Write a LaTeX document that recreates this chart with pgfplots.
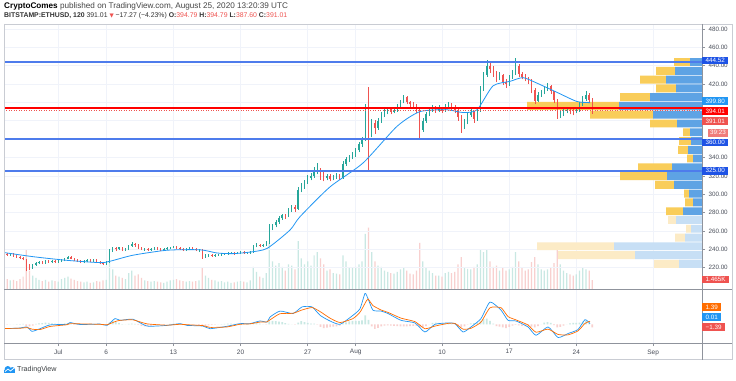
\documentclass[border=0pt]{standalone}
\usepackage{fontspec}
\setmainfont{Liberation Sans}
\newfontfamily\dejavu{DejaVu Sans}
\usepackage{pgfplots}
\pgfplotsset{compat=1.18}
\usepackage{pgfplotstable}

\definecolor{upc}{HTML}{26A69A}
\definecolor{dnc}{HTML}{EF5350}
\definecolor{volup}{HTML}{C9E8E3}
\definecolor{voldn}{HTML}{F8D0CF}
\definecolor{mablue}{HTML}{2196F3}
\definecolor{linb}{RGB}{78,124,236}
\definecolor{sigor}{HTML}{FF6D00}
\definecolor{vpb}{HTML}{5EA3E4}
\definecolor{vpy}{HTML}{F9CD5A}
\definecolor{vpbl}{HTML}{C7DFF5}
\definecolor{vpyl}{HTML}{FCEBC6}
\definecolor{gridc}{HTML}{F0F3FA}
\definecolor{framec}{HTML}{C9CCD3}
\definecolor{axc}{HTML}{8F939C}
\definecolor{txtc}{HTML}{4A4F5A}
\definecolor{lblblue}{HTML}{1E53E5}
\definecolor{cntred}{HTML}{F07C7A}

\pgfplotstableread{
k o hi lo c v hg
-18 236 237 234.5 235 1.5 -0.1
-17 235 236.5 233 234 1.6 -0.1
-16 234 236 233 235 1.4 0
-15 235 235.5 232 233 1.5 0
-14 233 234 231 232 1.3 0.1
-13 232 233 230 231 1.6 0.1
-12 231 232 228 229 2.0 0.2
-11 229 230 216 222 6.5 -0.8
-10 222 224 218 220 3.0 -1.0
-9 220 224 219 223 2.2 -0.6
-8 223 226 222 225 1.8 0.2
-7 225 227 224 226 1.5 0.4
-6 226 227 224 225 1.3 0.5
-5 225 228 224.5 227 1.5 0.7
-4 227 228 225 226 1.2 0.6
-3 226 228 225 227 1.4 0.4
-2 227 228 225 226 1.3 0.3
-1 226 228 225.5 227 1.2 0.2
0 227 229 226 228 1.6 0.2
1 228 231 227 230 1.8 0.4
2 230 233 229 232 2.0 0.5
3 232 233 229 230 1.7 0.2
4 230 231 227 228 1.5 -0.1
5 228 229 226 227 1.3 -0.3
6 227 228 225 226 1.2 -0.3
7 226 228 225 227 1.1 -0.2
8 227 229 226 228 1.2 0
9 228 229 226 227 1.0 0
10 227 229 226 228 1.1 0.1
11 228 229 225 226 1.3 0.1
12 226 227 224 225 1.2 -0.1
13 225 226 223 224 1.4 -0.3
14 224 227 223 226 1.5 -0.3
15 226 240 225 238 4.5 0.8
16 238 243 237 241 3.2 1.4
17 241 242 238 240 2.2 1.0
18 240 243 239 242 2.0 0.6
19 242 243 238 239 1.8 0.1
20 239 241 238 240 1.6 0
21 240 245 239 244 2.6 0.2
22 244 248 243 246 3.0 0.3
23 246 247 243 245 2.2 0.2
24 245 246 240 241 2.4 -0.3
25 241 242 239 240 1.8 -0.7
26 240 241.5 238.5 240 1.4 -1.0
27 240 241 238 239 1.3 -0.9
28 239 241 238 240 1.2 -0.6
29 240 242 239 241 1.3 -0.4
30 241 242 239 240 1.2 -0.3
31 240 241 238 239 1.1 -0.2
32 239 241 238.5 240 1.0 -0.1
33 240 242 239 241 1.2 0
34 241 243 240 242 1.4 0.2
35 242 244 241 243 1.5 0.3
36 243 244 240 241 1.6 0.2
37 241 242 239 240 1.4 0
38 240 241 238 239 1.3 -0.2
39 239 241 238.5 240 1.2 -0.3
40 240 242 239 241 1.3 -0.2
41 241 242 239 240 1.2 -0.2
42 240 241 238 239 1.3 -0.2
43 239 240 237 239 1.4 -0.3
44 239 240 230 232 3.5 -0.6
45 232 234.5 231 233 2.2 -0.7
46 233 235 232 234 1.8 -0.5
47 234 235 232 233 1.5 -0.3
48 233 235 232 234 1.4 -0.1
49 234 235 233 234 1.2 0
50 234 236 233 235 1.3 0.1
51 235 236 234 235 1.1 0.2
52 235 237 234 236 1.2 0.3
53 236 237 235 236 1.0 0.3
54 236 237 234 235 1.1 0.2
55 235 237 234.5 236 1.2 0.2
56 236 238 235 237 1.3 0.2
57 237 238 235 236 1.2 0.2
58 236 237.5 235 236 1.1 0.1
59 236 238 235 237 1.4 0.1
60 237 245 236 243 3.6 0.5
61 243 247 242 245 2.8 0.6
62 245 246 243 244 2.0 0.3
63 244 246 243 245 1.8 0
64 245 249 244 247 2.6 -0.1
65 247 268 246 264 7.5 1.3
66 264 268 261 266 4.5 1.5
67 266 272 264 270 3.8 1.4
68 270 276 268 274 4.2 1.2
69 274 279 272 277 3.6 1.0
70 277 279 273 276 3.0 0.5
71 276 285 275 283 4.0 0.2
72 283 288 281 286 3.8 0
73 286 288 281 284 3.2 -0.1
74 284 308 283 305 7.8 0.8
75 305 312 302 309 5.0 1.4
76 309 315 306 313 4.0 1.0
77 313 321 311 318 4.5 0.6
78 318 323 315 320 3.8 0.3
79 320 330 318 326 5.5 0.3
80 326 334 322 328 6.0 -0.2
81 328 329 316 322 5.0 -1.2
82 322 324 314 318 4.0 -1.7
83 318 322 315 320 3.0 -1.5
84 320 322 314 317 3.2 -1.3
85 317 321 315 319 2.6 -1.1
86 319 323 317 321 2.5 -0.9
87 321 322 316 318 2.4 -0.6
88 318 336 317 333 5.5 0.4
89 333 341 331 338 4.5 0.9
90 338 343 335 340 3.5 1.3
91 340 346 338 344 3.4 1.5
92 344 350 341 348 3.6 1.5
93 348 357 346 355 4.0 1.6
94 355 362 352 360 4.5 1.8
95 360 398 358 392 9.0 4.0
96 392 417 326 368 10.0 2.0
97 368 382 362 378 6.0 -1.0
98 378 381 366 372 4.5 -2.1
99 372 383 370 380 3.8 -1.6
100 380 390 378 387 3.6 -1.0
101 387 393 384 390 3.0 -0.6
102 390 395 387 393 2.8 -0.5
103 393 394 387 390 2.6 -0.6
104 390 395 388 392 2.5 -0.7
105 392 398 390 396 2.8 -0.8
106 396 403 394 401 3.2 -0.9
107 401 408 399 406 3.5 -1.0
108 406 407 398 400 3.0 -0.9
109 400 402 395 398 2.5 -0.8
110 398 400 394 396 2.4 -0.7
111 396 398 388 392 3.0 -0.7
112 392 394 361 370 7.5 -1.3
113 370 383 368 380 4.5 -1.5
114 380 390 378 387 3.4 -0.8
115 387 394 385 392 3.0 0
116 392 397 390 394 2.6 0.6
117 394 396 389 392 2.2 0.8
118 392 397 390 394 2.2 0.6
119 394 395 389 391 2.0 0.4
120 391 398 390 396 2.6 0.3
121 396 400 394 398 2.8 0.2
122 398 399 392 395 2.6 0.1
123 395 397 388 392 2.8 -0.2
124 392 393 380 384 4.0 -0.8
125 384 386 367 374 5.2 -1.3
126 374 382 371 378 3.5 -1.0
127 378 389 376 386 3.3 -0.2
128 386 393 384 390 3.2 0.4
129 390 391 378 382 3.6 0.5
130 382 395 380 392 4.0 0.8
131 392 418 390 415 6.5 1.6
132 415 433 413 430 6.0 2.4
133 430 446 428 440 6.5 2.6
134 440 443 432 436 4.5 1.5
135 436 440 428 432 3.6 0.3
136 432 434 422 426 3.8 -0.8
137 426 433 424 430 3.0 -1.1
138 430 431 419 422 3.4 -1.4
139 422 425 416 420 3.0 -1.7
140 420 430 418 428 3.2 -1.2
141 428 435 426 432 3.6 -0.6
142 432 448 430 440 6.0 -0.3
143 440 442 428 431 4.5 -0.5
144 431 433 425 428 3.4 -0.7
145 428 431 423 426 3.0 -0.8
146 426 428 420 424 3.2 -0.9
147 424 425 410 414 4.4 -1.1
148 414 416 398 402 5.2 -1.4
149 402 411 400 408 4.0 -0.8
150 408 414 406 412 3.2 0
151 412 418 409 416 3.0 0.7
152 416 421 413 418 3.2 1.0
153 418 419 409 412 3.4 0.6
154 412 413 399 403 4.2 -0.4
155 403 404 382 386 6.5 -1.4
156 386 392 383 388 4.0 -1.2
157 388 394 385 391 3.0 -0.6
158 391 395 388 392 2.6 0
159 392 394 387 391 2.4 0.4
160 391 393 386 390 2.2 0.6
161 390 395 388 392 2.4 0.6
162 392 400 390 398 3.0 0.8
163 398 407 396 404 3.4 1.2
164 404 412 402 408 3.2 1.7
165 408 410 400 403 3.0 0.5
166 403 405 387.6 391.01 1.465 -1.39
}\candles

\pgfplotstableread{
d p
-5.66 236.5
-2.64 232
0.91 228
4.35 225.5
5.39 227
7.79 233.6
11.33 239
14.77 239.5
16.55 236
18.21 235.3
19.98 237
21.76 241
24.15 261
25.19 275.5
28.32 308
31.76 334
35.31 374
37.70 390
40.52 392
42.19 389
43.65 392
45.31 418
47.09 423
48.44 427
49.90 421
51.98 411
54.07 401
55.43 399.8
}\ma

\pgfplotstableread{
d m s
-5.76 -2.0 -1.9
-3.99 -1.7 -1.8
-3.26 -1.2 -1.5
-2.74 -3.2 -2.2
-1.91 -2.0 -2.4
-0.87 -0.3 -1.0
0.91 0.0 -0.2
1.22 0.8 0.3
2.27 -0.1 0.2
4.35 0.1 0.0
5.08 -0.5 -0.2
5.91 2.6 1.2
6.44 1.8 1.8
7.79 2.3 2.0
9.25 -0.8 0.2
11.33 -0.5 -0.4
12.69 0.3 0.0
13.42 -0.5 -0.2
15.08 -0.8 -0.6
15.81 -2.0 -1.4
17.59 -0.9 -1.2
18.94 0.3 0.0
19.98 0.3 0.2
21.02 1.5 1.0
21.76 1.0 1.1
22.07 3.3 2.0
23.11 6.0 4.8
24.47 4.9 5.0
25.41 7.9 6.5
26.45 7.9 7.6
27.28 4.1 5.8
28.32 1.5 2.8
29.37 0.0 0.8
30.72 4.1 2.6
31.45 7.1 5.5
31.97 14.0 9.5
32.28 11.7 11.5
32.80 6.4 8.5
33.64 6.0 6.5
34.37 4.9 5.4
35.72 1.8 2.8
37.18 0.6 1.2
38.22 -3.5 -2.0
39.27 0.0 -0.8
40.62 0.6 0.4
41.35 0.3 0.4
42.19 -3.5 -2.2
43.02 -1.2 -1.8
44.06 2.6 1.0
45.00 10.1 7.5
46.15 6.4 7.5
46.88 1.8 3.5
47.71 1.5 2.0
48.96 -1.2 -0.3
49.80 -5.0 -3.6
51.05 -1.2 -2.2
52.09 -6.0 -4.6
53.13 -4.2 -4.8
54.17 -2.4 -3.0
54.90 2.1 0.4
55.43 0.3 1.39
}\macd

\pgfplotstableread{
p B Y BL YL
444.0 12 16 0 0
434.4 27 19 0 0
424.9 36 26 0 0
415.3 26 20 0 0
405.8 52 30 0 0
396.2 83 92 0 0
386.7 49 63 0 0
377.1 25 27 0 0
367.5 12 7 0 0
358.0 11 12 0 0
348.4 14 10 0 0
338.9 9 6 0 0
329.3 30 34 0 0
319.8 35 47 0 0
310.2 28 19 0 0
300.6 13 5 0 0
291.1 9 8 0 0
281.5 19 17 0 0
272.0 0 0 26 8
262.4 0 0 11 5
252.8 0 0 17 10
243.3 0 0 88 77
233.7 0 0 67 77
224.2 0 0 23 25
}\vprofile

\newcommand{\plabel}[3]{\node[fill=#2, text=white, font=\fontsize{6.3}{7}\selectfont, inner xsep=3.5bp, inner ysep=0bp, minimum height=7.6bp, text height=4.6bp, text depth=0.3bp, anchor=west] at (702,#1) {#3};}

\begin{document}
\begin{tikzpicture}[x=1bp,y=1bp]
\path[use as bounding box] (0,0) rectangle (736,380);
\fill[white] (0,0) rectangle (736,380);

% volume bars
\begin{axis}[at={(4bp,91bp)}, anchor=south west, scale only axis, width=698bp, height=265bp,
  xmin=-5.66, xmax=67.1, ymin=0, ymax=43.2, axis line style={draw=none},
  xtick={0,5,12,19,26,31,40,47,54,62}, xticklabels={}, major tick length=0, ytick=\empty,
  xmajorgrids, grid style={gridc, line width=0.7bp},
  ybar, bar shift=0pt, bar width=0.13]
\addplot[fill=volup, draw=none, restrict expr to domain={\thisrow{c}-\thisrow{o}}{0:1000}] table[x expr=(\thisrow{k}+1)/3, y=v]{\candles};
\addplot[fill=voldn, draw=none, restrict expr to domain={\thisrow{c}-\thisrow{o}}{-1000:-0.0001}] table[x expr=(\thisrow{k}+1)/3, y=v]{\candles};
\end{axis}

% volume profile
\begin{axis}[at={(4bp,91bp)}, anchor=south west, scale only axis, width=698bp, height=265bp,
  xmin=0, xmax=698, x dir=reverse, ymin=196.78, ymax=485.45, axis line style={draw=none},
  xtick=\empty, ytick={220,240,...,480}, yticklabels={}, major tick length=0,
  ymajorgrids, grid style={gridc, line width=0.7bp},
  xbar stacked, bar width=8.6]
\addplot[fill=vpb, draw=none] table[x=B, y=p]{\vprofile};
\addplot[fill=vpy, draw=none] table[x=Y, y=p]{\vprofile};
\addplot[fill=vpbl, draw=none] table[x=BL, y=p]{\vprofile};
\addplot[fill=vpyl, draw=none] table[x=YL, y=p]{\vprofile};
\end{axis}

% price
\begin{axis}[at={(4bp,91bp)}, anchor=south west, scale only axis, width=698bp, height=265bp,
  xmin=-5.66, xmax=67.1, ymin=196.78, ymax=485.45, axis line style={draw=none},
  xtick=\empty, ytick={220,240,...,480},
  yticklabels={220.00,240.00,260.00,280.00,300.00,320.00,340.00,,,,420.00,440.00,460.00,480.00},
  ytick pos=right, yticklabel pos=right,
  tick align=outside, major tick length=3bp, tick style={axc, line width=0.5bp},
  yticklabel style={font=\fontsize{6.3}{7}\selectfont, text=txtc}]
\addplot[draw=none, mark=none, restrict expr to domain={\thisrow{c}-\thisrow{o}}{0:1000},
  error bars/.cd, y dir=plus, y explicit, error mark=none, error bar style={draw=upc, line width=0.5bp}]
  table[x expr=(\thisrow{k}+1)/3, y=lo, y error expr=\thisrow{hi}-\thisrow{lo}]{\candles};
\addplot[draw=none, mark=none, restrict expr to domain={\thisrow{c}-\thisrow{o}}{-1000:-0.0001},
  error bars/.cd, y dir=plus, y explicit, error mark=none, error bar style={draw=dnc, line width=0.5bp}]
  table[x expr=(\thisrow{k}+1)/3, y=lo, y error expr=\thisrow{hi}-\thisrow{lo}]{\candles};
\addplot[draw=none, mark=none, restrict expr to domain={\thisrow{c}-\thisrow{o}}{0:1000},
  error bars/.cd, y dir=plus, y explicit, error mark=none, error bar style={draw=upc, line width=1.3bp}]
  table[x expr=(\thisrow{k}+1)/3, y=o, y error expr=\thisrow{c}-\thisrow{o}]{\candles};
\addplot[draw=none, mark=none, restrict expr to domain={\thisrow{c}-\thisrow{o}}{-1000:-0.0001},
  error bars/.cd, y dir=plus, y explicit, error mark=none, error bar style={draw=dnc, line width=1.3bp}]
  table[x expr=(\thisrow{k}+1)/3, y=c, y error expr=\thisrow{o}-\thisrow{c}]{\candles};
\addplot[mablue, line width=0.8bp, smooth, tension=0.4, mark=none] table[x=d, y=p]{\ma};
\addplot[color=linb, line width=2bp, mark=none] coordinates {(-5.66,444.52) (67.1,444.52)};
\addplot[color=linb, line width=1.7bp, mark=none] coordinates {(-5.66,360) (67.1,360)};
\addplot[color=linb, line width=1.7bp, mark=none] coordinates {(-5.66,325) (67.1,325)};
\addplot[red, line width=1.3bp, mark=none] coordinates {(-5.66,394.01) (67.1,394.01)};
\addplot[dnc, line width=0.5bp, dotted, mark=none] coordinates {(-5.66,391.01) (67.1,391.01)};
\end{axis}

% MACD
\begin{axis}[at={(4bp,37bp)}, anchor=south west, scale only axis, width=698bp, height=53.5bp,
  xmin=-5.66, xmax=67.1, ymin=-8.5, ymax=15.8, axis line style={draw=none},
  xtick={0,5,12,19,26,31,40,47,54,62}, xticklabels={Jul,6,13,20,27,Aug,10,17,24,Sep},
  xtick pos=bottom, tick align=outside, major tick length=3bp, tick style={axc, line width=0.5bp},
  ytick=\empty, xmajorgrids, grid style={gridc, line width=0.7bp},
  xticklabel style={font=\fontsize{6.5}{7}\selectfont, text=txtc}]
\addplot[ybar, bar shift=0pt, bar width=0.18, fill=volup, draw=none, restrict expr to domain={\thisrow{hg}}{0:100}] table[x expr=(\thisrow{k}+1)/3, y=hg]{\candles};
\addplot[ybar, bar shift=0pt, bar width=0.18, fill=voldn, draw=none, restrict expr to domain={\thisrow{hg}}{-100:-0.0001}] table[x expr=(\thisrow{k}+1)/3, y=hg]{\candles};
\addplot[mablue, line width=0.7bp, smooth, tension=0.35, mark=none] table[x=d, y=m]{\macd};
\addplot[sigor, line width=0.7bp, smooth, tension=0.35, mark=none] table[x=d, y=s]{\macd};
\end{axis}

% frame
\draw[framec, line width=0.6bp] (4,356) -- (732,356);
\draw[framec, line width=0.6bp] (4,356) -- (4,20.5);
\draw[framec, line width=0.6bp] (732,356) -- (732,20.5);
\draw[framec, line width=0.6bp] (4,20.5) -- (732,20.5);
\draw[axc, line width=0.6bp] (702,356) -- (702,20.5);
\draw[axc, line width=0.6bp] (4,90.5) -- (732,90.5);
\draw[axc, line width=0.6bp] (4,37) -- (732,37);

% price labels
\plabel{319.5}{lblblue}{444.52}
\plabel{279}{mablue}{399.80}
\plabel{269}{red}{394.01}
\plabel{259}{dnc}{391.01}
\node[fill=cntred, text=white, font=\fontsize{6.3}{7}\selectfont, inner xsep=2bp, inner ysep=0bp, minimum height=8bp, text height=4.6bp, text depth=0.3bp, anchor=east] at (728,247.5) {39:23};
\plabel{237.7}{lblblue}{360.00}
\plabel{209.3}{lblblue}{325.00}
\plabel{100.5}{dnc}{1.465K}
\plabel{73}{sigor}{1.39}
\plabel{63}{mablue}{0.01}
\plabel{53}{dnc}{−1.39}

% header
\node[anchor=west, inner sep=0pt, font=\fontsize{8.2}{9}\selectfont, text={rgb,255:red,70;green,70;blue,70}] at (4,373.8)
  {\textbf{\color{black}CryptoComes} published on TradingView.com, August 25, 2020 13:20:39 UTC};
\node[anchor=west, inner sep=0pt, font=\fontsize{6.9}{8}\selectfont, text={rgb,255:red,50;green,50;blue,50}] at (4,364.2)
  {\textbf{BITSTAMP:ETHUSD, 120} 391.01 {\color{dnc}\dejavu\fontsize{5.5}{6}\selectfont ▼} −17.27 (−4.23\%) \textbf{O:}{\color{dnc}394.79} \textbf{H:}{\color{dnc}394.79} \textbf{L:}{\color{dnc}387.60} \textbf{C:}{\color{dnc}391.01}};

% logo
\fill[mablue] (4,7.5) rectangle (15,10.5);
\fill[mablue] (7.8,10.8) circle (3.2);
\fill[mablue] (12.3,10.2) circle (2.7);
\draw[white, line width=0.7bp] (5,8.5) -- (8,11) -- (10.5,9) -- (14,12);
\node[anchor=west, inner sep=0pt, font=\fontsize{7.2}{8}\selectfont, text={rgb,255:red,60;green,64;blue,67}] at (17,10.5) {TradingView};
\end{tikzpicture}
\end{document}
